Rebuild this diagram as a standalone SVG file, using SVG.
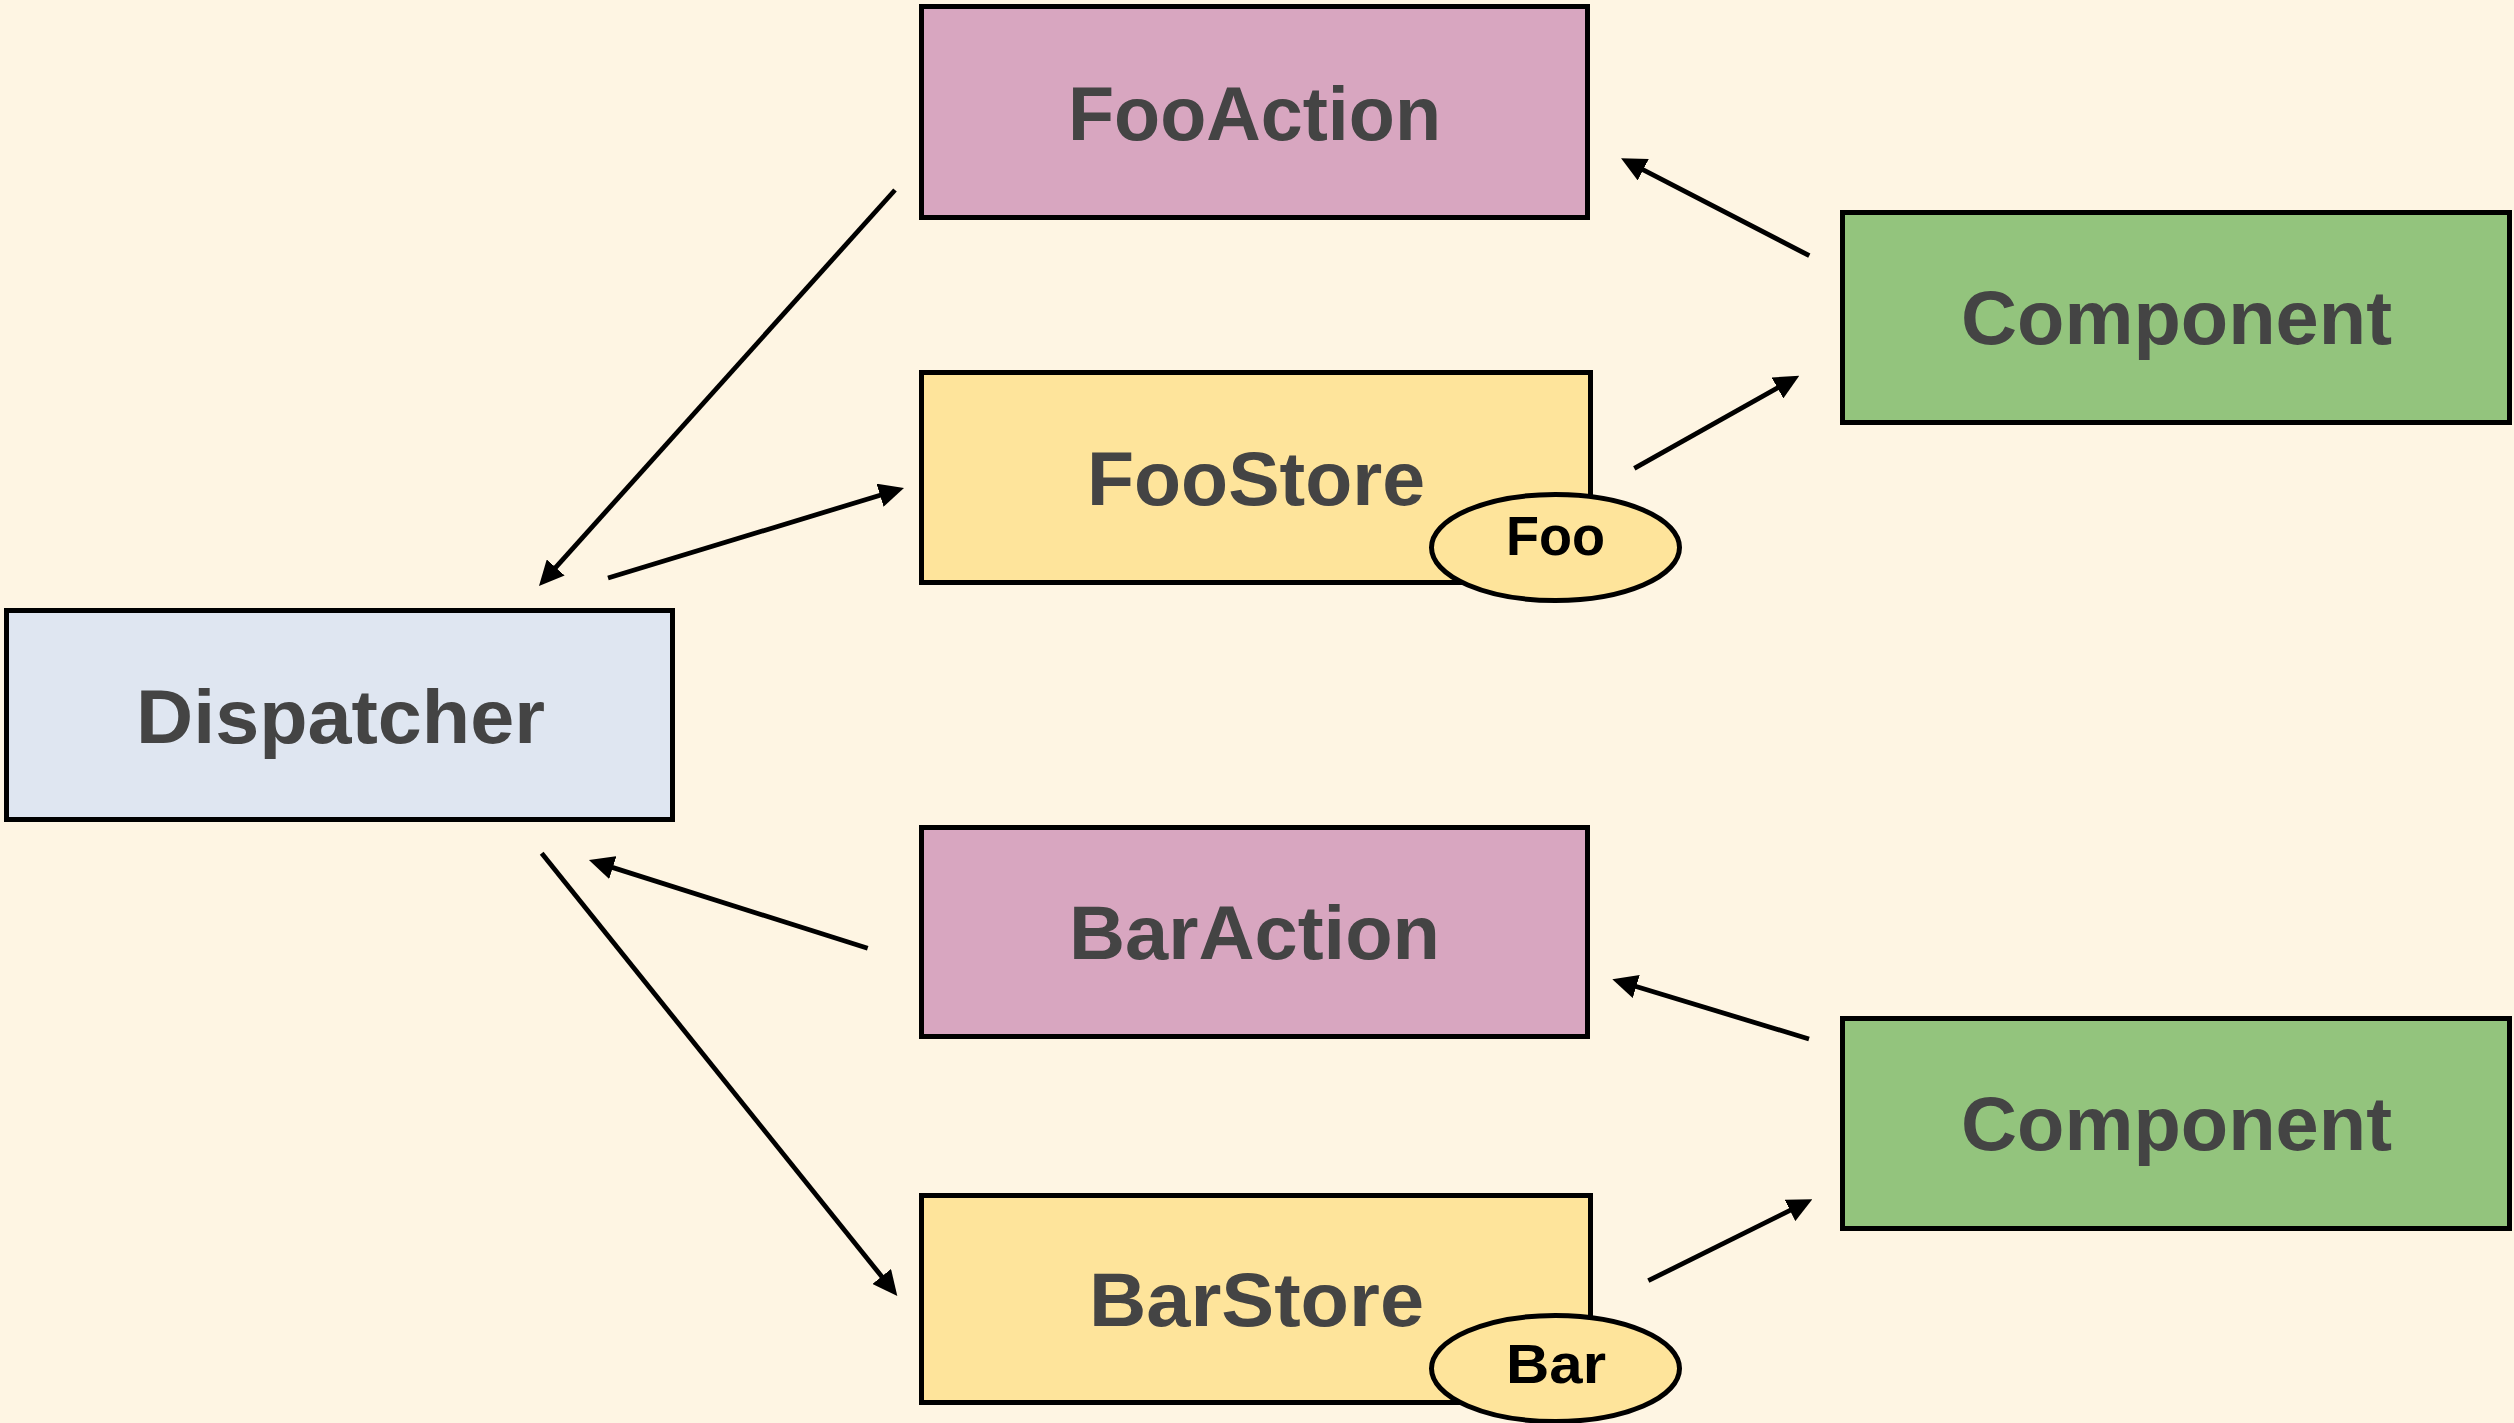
<svg xmlns="http://www.w3.org/2000/svg" width="2514" height="1423" viewBox="0 0 2514 1423">
  <style>
    .box { stroke: #000; stroke-width: 5; }
    .action { fill: #D8A6C0; }
    .store { fill: #FEE49B; }
    .dispatcher { fill: #DFE6F1; }
    .component { fill: #93C47D; }
    .label { font-family: "Liberation Sans", Arial, sans-serif; font-weight: bold; font-size: 76px; fill: #444444; text-anchor: middle; }
    .tag { font-family: "Liberation Sans", Arial, sans-serif; font-weight: bold; font-size: 55px; fill: #000; text-anchor: middle; }
    .edge { stroke: #000; stroke-width: 4.8; fill: none; marker-end: url(#arrow); }
  </style>
  <defs>
    <marker id="arrow" markerUnits="userSpaceOnUse" markerWidth="25" markerHeight="24" refX="13" refY="12" orient="auto">
      <path d="M0,0 L25,12 L0,24 Z" fill="#000"/>
    </marker>
  </defs>

  <rect width="2514" height="1423" fill="#FEF5E3"/>

  <g id="foo-action">
    <rect class="box action" x="921.5" y="6.5" width="666" height="211"/>
    <text class="label" x="1254.5" y="140" textLength="373" lengthAdjust="spacingAndGlyphs">FooAction</text>
  </g>

  <g id="foo-store">
    <rect class="box store" x="921.5" y="372.5" width="669" height="210"/>
    <text class="label" x="1256" y="505" textLength="338" lengthAdjust="spacingAndGlyphs">FooStore</text>
    <ellipse class="box store" cx="1555.5" cy="547.5" rx="124" ry="53"/>
    <text class="tag" x="1555.5" y="555" textLength="99" lengthAdjust="spacingAndGlyphs">Foo</text>
  </g>

  <g id="dispatcher">
    <rect class="box dispatcher" x="6.5" y="610.5" width="666" height="209"/>
    <text class="label" x="340.5" y="743" textLength="409" lengthAdjust="spacingAndGlyphs">Dispatcher</text>
  </g>

  <g id="component-foo">
    <rect class="box component" x="1842.5" y="212.5" width="667" height="210"/>
    <text class="label" x="2176.5" y="343.5" textLength="431" lengthAdjust="spacingAndGlyphs">Component</text>
  </g>

  <g id="bar-action">
    <rect class="box action" x="921.5" y="827.5" width="666" height="209"/>
    <text class="label" x="1254.5" y="959" textLength="371" lengthAdjust="spacingAndGlyphs">BarAction</text>
  </g>

  <g id="bar-store">
    <rect class="box store" x="921.5" y="1195.5" width="669" height="207"/>
    <text class="label" x="1256.5" y="1326" textLength="335" lengthAdjust="spacingAndGlyphs">BarStore</text>
    <ellipse class="box store" cx="1555.5" cy="1368.5" rx="124" ry="53"/>
    <text class="tag" x="1556" y="1383" textLength="100" lengthAdjust="spacingAndGlyphs">Bar</text>
  </g>

  <g id="component-bar">
    <rect class="box component" x="1842.5" y="1018.5" width="667" height="210"/>
    <text class="label" x="2176.5" y="1149.5" textLength="431" lengthAdjust="spacingAndGlyphs">Component</text>
  </g>

  <g id="connectors">
    <!-- FooAction -> Dispatcher -->
    <line class="edge" x1="895" y1="190" x2="547" y2="577.1"/>
    <!-- Dispatcher -> FooStore -->
    <line class="edge" x1="608" y1="578" x2="892.5" y2="491.5"/>
    <!-- Component -> FooAction -->
    <line class="edge" x1="1809.3" y1="255.7" x2="1631.7" y2="163.8"/>
    <!-- FooStore -> Component -->
    <line class="edge" x1="1634.3" y1="468.3" x2="1788.8" y2="381.6"/>
    <!-- BarAction -> Dispatcher -->
    <line class="edge" x1="867.7" y1="948.3" x2="600.4" y2="863.6"/>
    <!-- Dispatcher -> BarStore -->
    <line class="edge" x1="541.7" y1="853.3" x2="889.8" y2="1286.6"/>
    <!-- Component -> BarAction -->
    <line class="edge" x1="1809" y1="1039" x2="1623.8" y2="982.8"/>
    <!-- BarStore -> Component -->
    <line class="edge" x1="1648.3" y1="1280.7" x2="1801.6" y2="1204.6"/>
  </g>
</svg>
